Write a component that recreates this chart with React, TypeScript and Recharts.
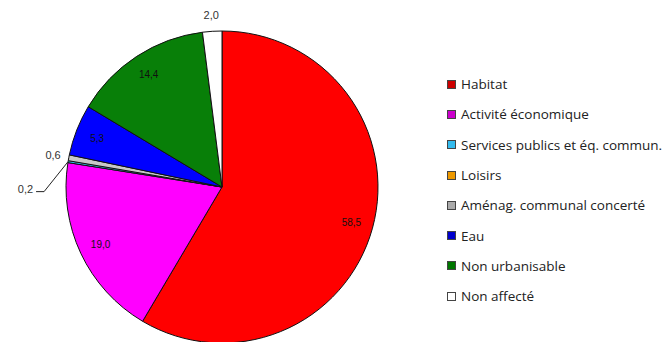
import React from "react";
import { PieChart, Pie, Cell, Legend } from "recharts";

const categories = [
  "Habitat",
  "Activité économique",
  "Services publics et éq. commun.",
  "Loisirs",
  "Aménag. communal concerté",
  "Eau",
  "Non urbanisable",
  "Non affecté",
];
const values = [58.5, 19.0, 0.2, 0.0, 0.6, 5.3, 14.4, 2.0];
const valueLabels = ["58,5", "19,0", "0,2", "", "0,6", "5,3", "14,4", "2,0"];
const colors = ["#ff0000", "#ff00ff", "#33ccff", "#ff9900", "#c8c8c8", "#0000ff", "#087f08", "#ffffff"];
const legendColors = ["#cc0000", "#cc00cc", "#33bbee", "#ee9900", "#aaaaaa", "#0000cc", "#007700", "#ffffff"];

const data = categories.map((name, i) => ({ name, value: values[i], label: valueLabels[i] }));

const RAD = Math.PI / 180;

const renderLabel = (props: any) => {
  const { cx, cy, midAngle, outerRadius, index, percent } = props;
  const text = valueLabels[index];
  if (!text) return null;
  const cos = Math.cos(-midAngle * RAD);
  const sin = Math.sin(-midAngle * RAD);
  if (percent >= 0.04) {
    const r = outerRadius * 0.86;
    return (
      <text x={cx + r * cos} y={cy + r * sin} textAnchor="middle" dominantBaseline="central"
        fontSize={10} fill="#111" fontFamily="Liberation Sans, Arial, sans-serif">
        {text}
      </text>
    );
  }
  if (percent >= 0.004) {
    const r = outerRadius + 16;
    return (
      <text x={cx + r * cos} y={cy + r * sin} textAnchor="middle" dominantBaseline="central"
        fontSize={11} fill="#333" fontFamily="Liberation Sans, Arial, sans-serif">
        {text}
      </text>
    );
  }
  const ex = cx + outerRadius * cos;
  const ey = cy + outerRadius * sin;
  const mx = ex - 24;
  const my = ey + 30;
  const hx = mx - 8;
  return (
    <g>
      <polyline points={`${ex},${ey} ${mx},${my} ${hx},${my}`} fill="none" stroke="#222" strokeWidth={1} />
      <text x={hx - 3} y={my - 3} textAnchor="end" dominantBaseline="central"
        fontSize={11} fill="#333" fontFamily="Liberation Sans, Arial, sans-serif">
        {text}
      </text>
    </g>
  );
};

const renderLegend = () => (
  <div style={{ position: "absolute", left: 447, top: 69, fontFamily: "'Open Sans', sans-serif", fontSize: 13.5, color: "#222" }}>
    {categories.map((c, i) => (
      <div key={c} style={{ display: "flex", alignItems: "center", height: 30.3, whiteSpace: "nowrap" }}>
        <span style={{ display: "inline-block", width: 7, height: 7, background: legendColors[i], border: "1px solid #444", marginRight: 5 }} />
        <span>{c}</span>
      </div>
    ))}
  </div>
);

export default function App() {
  return (
    <div style={{ position: "absolute", left: 0, top: 0, width: 665, height: 342, background: "#fff" }}>
      <PieChart width={665} height={342} margin={{ top: 0, right: 0, bottom: 0, left: 0 }}>
        <Pie
          data={data}
          dataKey="value"
          nameKey="name"
          cx={222}
          cy={187}
          outerRadius={156}
          startAngle={90}
          endAngle={-270}
          stroke="#111"
          strokeWidth={1}
          label={renderLabel}
          labelLine={false}
          isAnimationActive={false}
        >
          {data.map((d, i) => (
            <Cell key={d.name} fill={colors[i]} />
          ))}
        </Pie>
        <Legend content={renderLegend} wrapperStyle={{ position: "absolute", left: 0, top: 0, width: 665, height: 342 }} />
      </PieChart>
    </div>
  );
}
